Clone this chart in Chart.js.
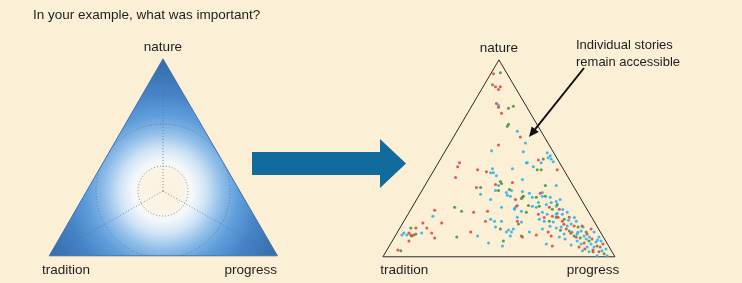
<!DOCTYPE html>
<html>
<head>
<meta charset="utf-8">
<script src="https://cdn.jsdelivr.net/npm/chart.js@4/dist/chart.umd.min.js"></script>
<style>
  html, body { margin: 0; padding: 0; background: #fbefd5; }
  #chart { display: block; }
</style>
</head>
<body>
<canvas id="chart" width="742" height="283"></canvas>
<script>
// x = position along tradition -> progress (0..100), y = share of nature (0..100)
const redPoints = [
  [47.6, 93.0], [48.5, 86.4], [50.6, 86.4], [49.8, 84.9], [48.9, 77.9], [49.8, 75.9],
  [51.1, 72.9], [59.2, 60.8], [49.8, 56.8], [67.0, 49.2], [33.0, 47.7], [32.2, 45.7],
  [31.3, 40.2], [44.6, 43.2], [40.8, 44.2], [55.8, 37.7], [48.5, 36.7], [40.3, 35.2],
  [75.1, 44.2], [67.8, 32.2], [22.3, 23.6], [25.3, 17.1], [17.2, 17.1], [18.9, 14.6],
  [21.0, 12.1], [22.3, 9.5], [14.2, 14.6], [11.2, 12.1], [12.0, 11.1], [13.3, 11.1],
  [11.2, 8.0], [6.4, 3.5], [45.1, 23.1], [44.2, 18.1], [39.1, 22.6], [37.8, 12.6],
  [60.1, 10.1], [57.1, 29.1], [57.5, 25.6], [71.7, 25.1], [67.0, 21.6], [73.0, 20.6],
  [57.9, 18.1], [66.1, 11.1], [71.2, 12.6], [72.5, 10.6], [73.0, 5.5], [76.0, 24.1],
  [75.5, 20.1], [80.3, 20.1], [82.4, 15.6], [85.8, 15.6], [88.0, 11.6], [90.1, 9.0],
  [92.3, 5.5], [93.1, 2.5], [94.8, 6.5], [84.5, 5.0], [79.0, 14.1], [89.7, 14.1],
  [77.3, 18.1], [83.3, 10.1], [86.7, 7.0], [81.0, 12.0], [87.0, 4.0], [90.5, 3.5],
  [78.0, 16.5], [69.5, 20.0]
];
const greenPoints = [
  [50.6, 93.5], [47.2, 87.4], [54.1, 75.4], [56.2, 76.4], [54.1, 67.3], [53.6, 66.3],
  [69.1, 49.7], [66.5, 44.2], [68.2, 44.2], [70.0, 36.2], [66.1, 30.2], [70.0, 30.7],
  [50.6, 38.2], [51.1, 37.2], [42.1, 35.2], [49.8, 33.7], [54.5, 34.2], [60.1, 30.2],
  [30.9, 25.1], [33.9, 23.1], [31.8, 10.1], [12.0, 14.6], [12.4, 10.6], [14.2, 11.6],
  [7.7, 3.0], [50.6, 14.1], [51.9, 8.0], [58.4, 16.6], [60.5, 30.7], [59.7, 29.6],
  [62.7, 26.1], [67.4, 25.6], [73.0, 24.1], [61.8, 22.6], [74.7, 20.1], [71.7, 18.1],
  [59.7, 10.6], [75.1, 26.6], [78.1, 19.1], [84.1, 15.1], [82.4, 10.6], [88.8, 8.0],
  [93.6, 5.0], [90.6, 2.5], [80.3, 13.1], [87.6, 12.6], [95.3, 1.5], [85.0, 9.5],
  [76.5, 13.5]
];
const cyanPoints = [
  [49.8, 76.9], [57.9, 63.8], [61.4, 57.8], [46.8, 53.8], [60.5, 53.3], [62.2, 47.7],
  [70.8, 52.8], [72.1, 51.3], [72.5, 49.7], [73.4, 48.2], [71.2, 50.3], [68.2, 47.7],
  [64.8, 45.7], [61.8, 47.7], [74.7, 36.2], [68.7, 32.7], [64.4, 30.2], [72.1, 30.2],
  [47.2, 44.7], [47.6, 42.7], [46.4, 42.7], [48.9, 41.2], [55.8, 44.7], [60.1, 39.2],
  [49.8, 36.2], [48.5, 33.7], [55.4, 33.7], [63.1, 32.2], [53.6, 31.2], [21.5, 20.6],
  [16.7, 12.1], [8.2, 11.1], [9.0, 12.1], [10.3, 11.1], [42.1, 31.7], [46.4, 29.1],
  [46.4, 19.1], [48.1, 18.1], [48.5, 15.1], [45.5, 7.0], [51.5, 5.5], [54.9, 10.6],
  [56.2, 14.1], [57.9, 20.1], [56.7, 24.1], [57.9, 26.1], [60.1, 33.2], [40.8, 10.6],
  [53.2, 32.7], [54.9, 30.7], [68.7, 30.7], [67.0, 27.6], [64.4, 25.6], [66.1, 25.1],
  [70.4, 26.6], [72.5, 27.6], [74.7, 25.6], [51.1, 25.1], [56.7, 24.6], [59.7, 23.1],
  [68.7, 22.6], [70.8, 21.6], [75.1, 22.1], [67.4, 19.1], [69.5, 18.1], [73.4, 17.6],
  [59.7, 17.6], [51.1, 18.1], [54.1, 13.6], [55.4, 12.6], [63.1, 12.6], [68.7, 14.1],
  [74.7, 14.6], [53.2, 12.6], [70.4, 6.5], [74.7, 28.1], [76.4, 29.1], [74.7, 21.6],
  [77.3, 21.6], [79.4, 22.6], [81.1, 16.6], [79.4, 15.6], [83.3, 18.1], [85.4, 13.1],
  [81.5, 12.6], [83.7, 11.6], [86.7, 10.6], [87.6, 9.0], [89.7, 6.5], [91.8, 7.5],
  [91.0, 5.0], [88.0, 5.0], [85.4, 6.5], [94.4, 3.0], [88.8, 2.5], [83.7, 8.0],
  [78.1, 11.6], [76.8, 15.1], [86.3, 15.1], [91.0, 12.6], [94.0, 8.0], [96.1, 4.0],
  [92.3, 0.5], [96.6, 0.5], [78.5, 9.0], [81.1, 6.0], [76.0, 10.1], [93.1, 10.1],
  [80.0, 18.5], [84.0, 12.5], [89.0, 10.0], [92.5, 8.5], [86.0, 3.0], [72.0, 15.5],
  [77.5, 24.0], [82.5, 20.0]
];
const cornerLabels = ['nature', 'tradition', 'progress'];
const outline = [[0, 0], [100, 0], [50, 100], [0, 0]];

const toXY = arr => arr.map(p => ({ x: p[0], y: p[1] }));
const font = '"Liberation Sans", Arial, sans-serif';

const backdrop = {
  id: 'backdrop',
  beforeDraw(chart) {
    const { ctx, width, height, scales } = chart;
    const X = v => scales.x.getPixelForValue(v);
    const Y = v => scales.y.getPixelForValue(v);
    ctx.save();
    ctx.fillStyle = '#fbefd5';
    ctx.fillRect(0, 0, width, height);

    // left: the shaded reference triangle
    const tl = [X(-143.8), Y(0.5)], tr = [X(-45.5), Y(0.5)], tt = [X(-94.8), Y(100.5)];
    const cx = X(-94.8), cy = Y(33.4);
    const g = ctx.createRadialGradient(cx, cy, 0, cx, cy, 135);
    g.addColorStop(0, '#fbf2de');
    g.addColorStop(0.16, '#fbf4e6');
    g.addColorStop(0.22, '#f4f8fb');
    g.addColorStop(0.32, '#cfe3f5');
    g.addColorStop(0.44, '#8dbce8');
    g.addColorStop(0.56, '#5f9edb');
    g.addColorStop(0.72, '#4683c6');
    g.addColorStop(1, '#3268a6');
    ctx.beginPath();
    ctx.moveTo(tl[0], tl[1]); ctx.lineTo(tr[0], tr[1]); ctx.lineTo(tt[0], tt[1]); ctx.closePath();
    ctx.fillStyle = g;
    ctx.fill();
    ctx.strokeStyle = '#3d72ad';
    ctx.lineWidth = 1;
    ctx.stroke();

    ctx.save();
    ctx.clip();
    ctx.setLineDash([1, 2]);
    ctx.strokeStyle = 'rgba(95,110,135,0.75)';
    ctx.beginPath(); ctx.arc(cx, cy, 25, 0, Math.PI * 2); ctx.stroke();
    ctx.beginPath(); ctx.arc(cx, cy, 67, 0, Math.PI * 2); ctx.stroke();
    [tl, tr, tt].forEach(v => {
      ctx.beginPath(); ctx.moveTo(cx, cy); ctx.lineTo(v[0], v[1]); ctx.stroke();
    });
    ctx.restore();

    // big blue arrow
    ctx.fillStyle = '#116b9c';
    ctx.beginPath();
    ctx.moveTo(252, 152); ctx.lineTo(380, 152); ctx.lineTo(380, 139);
    ctx.lineTo(406, 163.5); ctx.lineTo(380, 188); ctx.lineTo(380, 175);
    ctx.lineTo(252, 175); ctx.closePath();
    ctx.fill();
    ctx.restore();
  },
  afterDraw(chart) {
    const { ctx, scales } = chart;
    const X = v => scales.x.getPixelForValue(v);
    ctx.save();
    ctx.fillStyle = '#1e1e1e';
    ctx.textBaseline = 'middle';
    ctx.font = '13.5px ' + font;
    ctx.textAlign = 'left';
    ctx.fillText('In your example, what was important?', 33, 15);

    ctx.font = '13.5px ' + font;
    // left triangle labels
    ctx.textAlign = 'center';
    ctx.fillText(cornerLabels[0], X(-94.8), 47);
    ctx.textAlign = 'left';
    ctx.fillText(cornerLabels[1], 42, 270);
    ctx.textAlign = 'right';
    ctx.fillText(cornerLabels[2], 277, 270);
    // right triangle labels
    ctx.textAlign = 'center';
    ctx.fillText(cornerLabels[0], X(50), 48);
    ctx.textAlign = 'left';
    ctx.fillText(cornerLabels[1], X(-1.2), 270);
    ctx.textAlign = 'right';
    ctx.fillText(cornerLabels[2], X(101.8), 270);

    ctx.font = '13px ' + font;
    ctx.textAlign = 'left';
    ctx.fillText('Individual stories', 576, 45);
    ctx.fillText('remain accessible', 576, 62);

    // annotation arrow
    const x1 = 584, y1 = 68, x2 = 529, y2 = 137;
    const a = Math.atan2(y2 - y1, x2 - x1);
    ctx.strokeStyle = '#111';
    ctx.lineWidth = 2;
    ctx.beginPath();
    ctx.moveTo(x1, y1);
    ctx.lineTo(x2 - 8 * Math.cos(a), y2 - 8 * Math.sin(a));
    ctx.stroke();
    ctx.fillStyle = '#111';
    ctx.beginPath();
    ctx.moveTo(x2, y2);
    ctx.lineTo(x2 - 10 * Math.cos(a) + 4.5 * Math.sin(a), y2 - 10 * Math.sin(a) - 4.5 * Math.cos(a));
    ctx.lineTo(x2 - 10 * Math.cos(a) - 4.5 * Math.sin(a), y2 - 10 * Math.sin(a) + 4.5 * Math.cos(a));
    ctx.closePath();
    ctx.fill();
    ctx.restore();
  }
};

const dots = (label, data, color) => ({
  label,
  data: toXY(data),
  backgroundColor: color,
  borderWidth: 0,
  pointRadius: 1.5,
  pointHoverRadius: 1.5
});

new Chart(document.getElementById('chart'), {
  type: 'scatter',
  data: {
    datasets: [
      dots('red', redPoints, 'rgba(222,72,64,0.9)'),
      dots('green', greenPoints, 'rgba(70,150,60,0.9)'),
      dots('cyan', cyanPoints, 'rgba(45,180,228,0.9)'),
      {
        label: 'outline',
        data: toXY(outline),
        showLine: true,
        borderColor: '#2a2a2a',
        borderWidth: 1,
        pointRadius: 0,
        fill: false
      }
    ]
  },
  options: {
    responsive: false,
    animation: false,
    layout: { padding: 0 },
    plugins: { legend: { display: false }, tooltip: { enabled: false } },
    scales: {
      x: { type: 'linear', display: false, min: -164.4, max: 154.1 },
      y: { type: 'linear', display: false, min: -12.56, max: 129.65 }
    }
  },
  plugins: [backdrop]
});
</script>
</body>
</html>
